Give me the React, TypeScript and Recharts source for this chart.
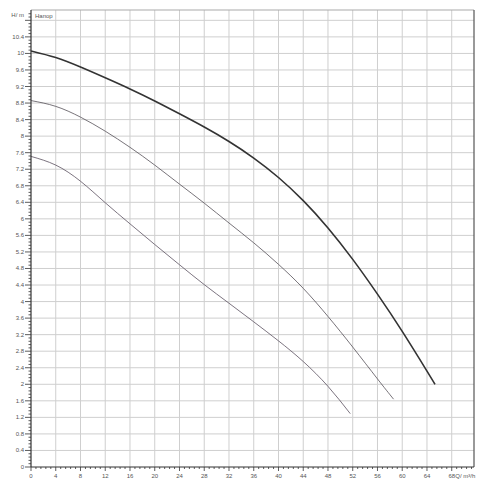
import { LineChart, Line, XAxis, YAxis, CartesianGrid, ReferenceLine } from 'recharts'

// Q (m³/h) and H (m)
const qTop = [0, 4, 8, 12, 16, 20, 24, 28, 32, 36, 40, 44, 48, 52, 56, 60, 64, 65.3]
const hTop = [10.06, 9.9, 9.67, 9.41, 9.14, 8.85, 8.54, 8.22, 7.87, 7.47, 7.0, 6.44, 5.78, 5.02, 4.18, 3.28, 2.32, 2.0]

const qMid = [0, 4, 8, 12, 16, 20, 24, 28, 32, 36, 40, 44, 48, 52, 56, 58.6]
const hMid = [8.86, 8.72, 8.46, 8.12, 7.73, 7.3, 6.84, 6.38, 5.9, 5.42, 4.9, 4.32, 3.64, 2.9, 2.13, 1.64]

const qLow = [0, 4, 8, 12, 16, 20, 24, 28, 32, 36, 40, 44, 48, 51.6]
const hLow = [7.51, 7.3, 6.91, 6.39, 5.88, 5.38, 4.89, 4.41, 3.96, 3.51, 3.05, 2.55, 1.95, 1.29]

const X_MAX = 71.6
const Y_MAX = 11.05

// minor ticks every 0.8 / 0.08, labelled every 4 / 0.4
const xTicks = Array.from({ length: 90 }, (_, i) => Math.round(i * 8) / 10)
const yTicks = Array.from({ length: 138 }, (_, i) => Math.round(i * 8) / 100)
const xGrid = Array.from({ length: 17 }, (_, i) => (i + 1) * 4)
const yGrid = Array.from({ length: 27 }, (_, i) => Math.round((i + 1) * 4) / 10)

const toPoints = (q: number[], h: number[]) => q.map((x, i) => ({ q: x, h: h[i] }))

const FONT = '"Liberation Sans", Arial, sans-serif'
const fmt = (v: number) => String(parseFloat(v.toFixed(1)))

const XTick = (props: any) => {
  const { x, y, payload } = props
  const v = payload.value
  const major = Math.round(v * 10) % 40 === 0
  return (
    <g>
      <line x1={x} y1={y} x2={x} y2={y + (major ? 4 : 2)} stroke="#333" strokeWidth={0.8} />
      {major && (
        <text x={x} y={y + 11} textAnchor="middle" fontSize={6} fill="#555" fontFamily={FONT}>
          {fmt(v)}
        </text>
      )}
      {v === 68 && (
        <text x={x + 3.5} y={y + 11} textAnchor="start" fontSize={6} fill="#555" fontFamily={FONT}>
          Q/ m³/h
        </text>
      )}
    </g>
  )
}

const YTick = (props: any) => {
  const { x, y, payload } = props
  const v = payload.value
  const major = Math.round(v * 100) % 40 === 0
  const top = Math.abs(v - 10.8) < 0.001
  return (
    <g>
      <line x1={x - (major ? 6 : 2.5)} y1={y} x2={x} y2={y} stroke="#333" strokeWidth={0.8} />
      {major && !top && (
        <text x={x - 7} y={y + 2} textAnchor="end" fontSize={6} fill="#555" fontFamily={FONT}>
          {fmt(v)}
        </text>
      )}
      {top && (
        <>
          <text x={x - 7} y={y - 3} textAnchor="end" fontSize={6} fill="#555" fontFamily={FONT}>
            H/ m
          </text>
          <text x={x + 4} y={y - 2} textAnchor="start" fontSize={6} fill="#555" fontFamily={FONT}>
            Напор
          </text>
        </>
      )}
    </g>
  )
}

export default function App() {
  return (
    <div style={{ position: 'absolute', left: 0, top: 0, width: 500, height: 500, background: '#fff' }}>
      <LineChart width={500} height={500} margin={{ top: 10, right: 26, left: 0, bottom: 13 }}>
        <CartesianGrid
          stroke="#cfcfcf"
          strokeWidth={1}
          verticalCoordinatesGenerator={({ offset }: any) =>
            xGrid.map(v => offset.left + (offset.width * v) / X_MAX)}
          horizontalCoordinatesGenerator={({ offset }: any) =>
            yGrid.map(v => offset.top + offset.height * (1 - v / Y_MAX))}
        />
        <XAxis
          type="number"
          dataKey="q"
          domain={[0, X_MAX]}
          ticks={xTicks}
          interval={0}
          height={20}
          tickSize={0}
          tickMargin={0}
          tickLine={false}
          axisLine={{ stroke: '#333', strokeWidth: 1.2 }}
          tick={<XTick />}
          allowDuplicatedCategory={false}
        />
        <YAxis
          type="number"
          dataKey="h"
          domain={[0, Y_MAX]}
          ticks={yTicks}
          interval={0}
          width={31}
          tickSize={0}
          tickMargin={0}
          tickLine={false}
          axisLine={{ stroke: '#333', strokeWidth: 1.2 }}
          tick={<YTick />}
        />
        <ReferenceLine y={Y_MAX} stroke="#aaa" strokeWidth={1.2} />
        <ReferenceLine x={X_MAX} stroke="#555" strokeWidth={1.2} />
        <Line data={toPoints(qLow, hLow)} dataKey="h" type="natural" stroke="#5a5060" strokeWidth={0.8} dot={false} isAnimationActive={false} />
        <Line data={toPoints(qMid, hMid)} dataKey="h" type="natural" stroke="#555058" strokeWidth={0.8} dot={false} isAnimationActive={false} />
        <Line data={toPoints(qTop, hTop)} dataKey="h" type="natural" stroke="#333" strokeWidth={1.6} dot={false} isAnimationActive={false} />
      </LineChart>
    </div>
  )
}
